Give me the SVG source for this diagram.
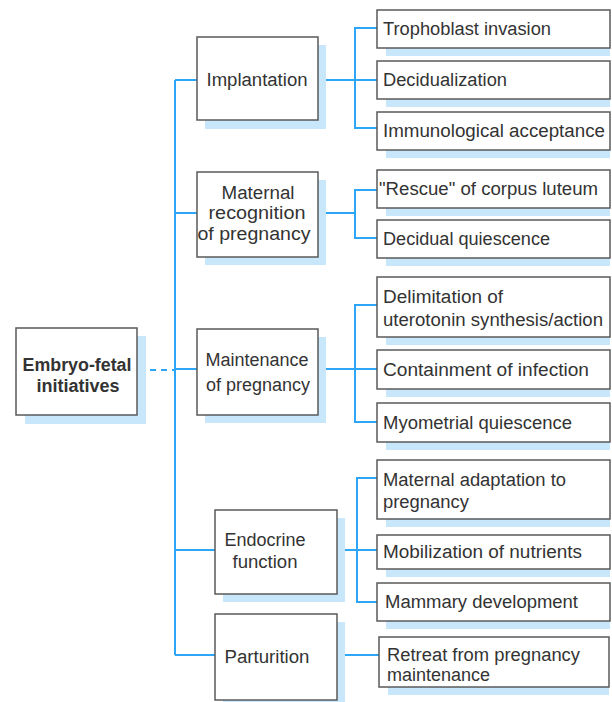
<svg xmlns="http://www.w3.org/2000/svg" width="612" height="702" viewBox="0 0 612 702">
<style>
.bx{fill:#fff;stroke:#5a5a5a;stroke-width:1.5}
.sh{fill:#c8e7fb}
.t{font-family:"Liberation Sans",Arial,sans-serif;font-size:18px;fill:#333}
.tb{font-family:"Liberation Sans",Arial,sans-serif;font-size:18px;font-weight:bold;fill:#333}
.c{stroke:#2ea6f7;stroke-width:2;fill:none}
</style>
<rect width="612" height="702" fill="#fff"/>
<g id="connectors">
<line class="c" x1="139" y1="370" x2="175" y2="370" stroke-dasharray="6,5"/>
<line class="c" x1="175" y1="369" x2="197" y2="369"/>
<line class="c" x1="175" y1="80" x2="175" y2="655"/>
<line class="c" x1="175" y1="80" x2="197" y2="80"/>
<line class="c" x1="175" y1="213" x2="197" y2="213"/>
<line class="c" x1="175" y1="550" x2="215" y2="550"/>
<line class="c" x1="175" y1="655" x2="215" y2="655"/>
<path class="c" d="M318 80H377M377 28H355V128H377"/>
<path class="c" d="M318 213H355M377 190H355V238H377"/>
<path class="c" d="M318 369H377M377 305H355V422H377"/>
<path class="c" d="M337 550H377M377 478H357V602H377"/>
<path class="c" d="M337 655H379"/>
</g>
<g id="root">
<rect class="sh" x="25" y="336" width="121" height="88"/>
<rect class="bx" x="16" y="328" width="121" height="87"/>
<text class="tb" x="77" y="371" text-anchor="middle" textLength="109" lengthAdjust="spacingAndGlyphs">Embryo-fetal</text>
<text class="tb" x="78" y="392" text-anchor="middle" textLength="83" lengthAdjust="spacingAndGlyphs">initiatives</text>
</g>
<g id="implantation">
<rect class="sh" x="205" y="45" width="121" height="84"/>
<rect class="bx" x="197" y="37" width="121" height="83"/>
<text class="t" x="257" y="86" text-anchor="middle" textLength="101" lengthAdjust="spacingAndGlyphs">Implantation</text>
</g>
<g id="maternal">
<rect class="sh" x="205" y="180" width="121" height="85"/>
<rect class="bx" x="197" y="172" width="121" height="85"/>
<text class="t" x="258" y="199" text-anchor="middle" textLength="73" lengthAdjust="spacingAndGlyphs">Maternal</text>
<text class="t" x="257" y="219" text-anchor="middle" textLength="97" lengthAdjust="spacingAndGlyphs">recognition</text>
<text class="t" x="254" y="240" text-anchor="middle" textLength="113" lengthAdjust="spacingAndGlyphs">of pregnancy</text>
</g>
<g id="maintenance">
<rect class="sh" x="205" y="337" width="121" height="86"/>
<rect class="bx" x="197" y="329" width="121" height="86"/>
<text class="t" x="257" y="366" text-anchor="middle" textLength="103" lengthAdjust="spacingAndGlyphs">Maintenance</text>
<text class="t" x="258" y="391" text-anchor="middle" textLength="104" lengthAdjust="spacingAndGlyphs">of pregnancy</text>
</g>
<g id="endocrine">
<rect class="sh" x="223" y="518" width="122" height="84"/>
<rect class="bx" x="215" y="510" width="122" height="84"/>
<text class="t" x="265" y="546" text-anchor="middle" textLength="81" lengthAdjust="spacingAndGlyphs">Endocrine</text>
<text class="t" x="265" y="568" text-anchor="middle" textLength="65" lengthAdjust="spacingAndGlyphs">function</text>
</g>
<g id="parturition">
<rect class="sh" x="223" y="622" width="122" height="80"/>
<rect class="bx" x="215" y="614" width="122" height="86"/>
<text class="t" x="267" y="663" text-anchor="middle" textLength="85" lengthAdjust="spacingAndGlyphs">Parturition</text>
</g>
<g id="trophoblast">
<rect class="sh" x="386" y="18" width="224" height="38"/>
<rect class="bx" x="377" y="10" width="233" height="38"/>
<text class="t" x="383" y="35" textLength="168" lengthAdjust="spacingAndGlyphs">Trophoblast invasion</text>
</g>
<g id="decidualization">
<rect class="sh" x="386" y="69" width="224" height="38"/>
<rect class="bx" x="377" y="61" width="233" height="38"/>
<text class="t" x="383" y="86" textLength="124" lengthAdjust="spacingAndGlyphs">Decidualization</text>
</g>
<g id="immunological">
<rect class="sh" x="386" y="120" width="224" height="38"/>
<rect class="bx" x="377" y="112" width="233" height="38"/>
<text class="t" x="383" y="137" textLength="222" lengthAdjust="spacingAndGlyphs">Immunological  acceptance</text>
</g>
<g id="rescue">
<rect class="sh" x="386" y="178" width="224" height="38"/>
<rect class="bx" x="377" y="170" width="233" height="38"/>
<text class="t" x="379" y="195" textLength="219" lengthAdjust="spacingAndGlyphs">"Rescue" of corpus luteum</text>
</g>
<g id="decidual-quiescence">
<rect class="sh" x="386" y="228" width="224" height="38"/>
<rect class="bx" x="377" y="220" width="233" height="38"/>
<text class="t" x="383" y="245" textLength="167" lengthAdjust="spacingAndGlyphs">Decidual quiescence</text>
</g>
<g id="delimitation">
<rect class="sh" x="386" y="285" width="224" height="60"/>
<rect class="bx" x="377" y="277" width="233" height="60"/>
<text class="t" x="383" y="303" textLength="120" lengthAdjust="spacingAndGlyphs">Delimitation of</text>
<text class="t" x="383" y="326" textLength="220" lengthAdjust="spacingAndGlyphs">uterotonin synthesis/action</text>
</g>
<g id="containment">
<rect class="sh" x="386" y="358" width="224" height="39"/>
<rect class="bx" x="377" y="350" width="233" height="39"/>
<text class="t" x="383" y="376" textLength="206" lengthAdjust="spacingAndGlyphs">Containment  of  infection</text>
</g>
<g id="myometrial">
<rect class="sh" x="386" y="411" width="224" height="39"/>
<rect class="bx" x="377" y="403" width="233" height="39"/>
<text class="t" x="383" y="429" textLength="189" lengthAdjust="spacingAndGlyphs">Myometrial quiescence</text>
</g>
<g id="adaptation">
<rect class="sh" x="386" y="468" width="224" height="59"/>
<rect class="bx" x="377" y="460" width="233" height="59"/>
<text class="t" x="383" y="486" textLength="183" lengthAdjust="spacingAndGlyphs">Maternal adaptation to</text>
<text class="t" x="383" y="508" textLength="86" lengthAdjust="spacingAndGlyphs">pregnancy</text>
</g>
<g id="mobilization">
<rect class="sh" x="386" y="543" width="224" height="34"/>
<rect class="bx" x="377" y="535" width="233" height="34"/>
<text class="t" x="383" y="558" textLength="199" lengthAdjust="spacingAndGlyphs">Mobilization of nutrients</text>
</g>
<g id="mammary">
<rect class="sh" x="386" y="591" width="224" height="38"/>
<rect class="bx" x="377" y="583" width="233" height="38"/>
<text class="t" x="385" y="608" textLength="193" lengthAdjust="spacingAndGlyphs">Mammary development</text>
</g>
<g id="retreat">
<rect class="sh" x="388" y="645" width="221" height="50"/>
<rect class="bx" x="379" y="637" width="230" height="50"/>
<text class="t" x="387" y="661" textLength="193" lengthAdjust="spacingAndGlyphs">Retreat from pregnancy</text>
<text class="t" x="387" y="681" textLength="103" lengthAdjust="spacingAndGlyphs">maintenance</text>
</g>
</svg>
